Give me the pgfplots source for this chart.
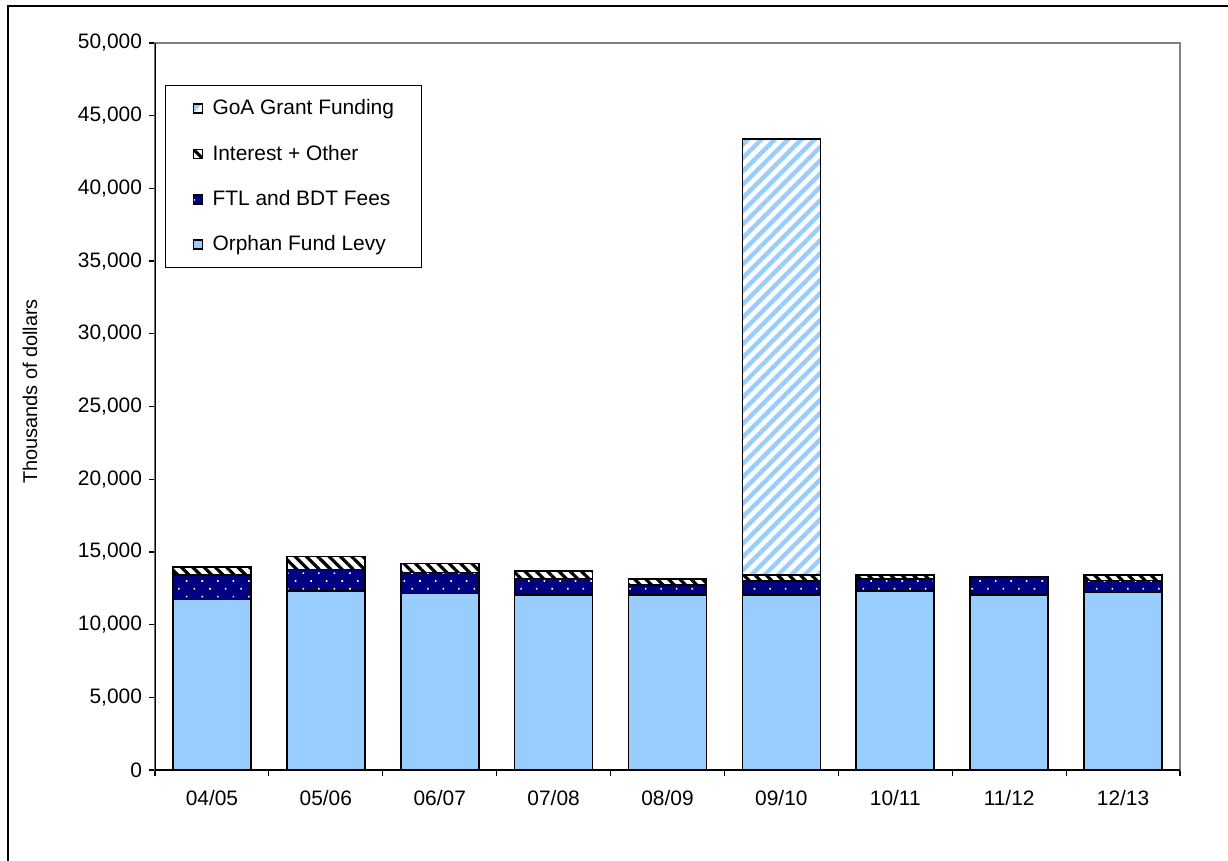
\documentclass[border=0pt]{standalone}
\usepackage{pgfplots}
\pgfplotsset{compat=1.18}
\usepackage{fontspec}
\setmainfont{Liberation Sans}
\usetikzlibrary{patterns.meta}

\definecolor{levyblue}{HTML}{99CCFF}
\definecolor{feenavy}{HTML}{000080}
\definecolor{framegray}{HTML}{808080}

% Funding sources by fiscal year, thousands of dollars
\pgfplotstableread{
x  levy   fees  other  grant
0  11740  1670  570    0
1  12310  1490  870    0
2  12150  1420  640    0
3  12040  1140  510    0
4  12040  680   420    0
5  12040  960   410    30000
6  12310  830   290    0
7  12040  1210  60     0
8  12220  800   410    0
}\funding

\begin{document}
\begin{tikzpicture}
\path[use as bounding box] (-77.5bp,-45.5bp) rectangle (536.5bp,385bp);
\draw[line width=0.8bp] (-73.5bp,-60bp) -- (-73.5bp,382bp) -- (560bp,382bp);
\begin{axis}[
  scale only axis,
  width=512.5bp, height=363.5bp,
  ybar stacked, bar width=0.685,
  xmin=-0.5, xmax=8.5, ymin=0, ymax=50000,
  xtick={0,...,8},
  xticklabels={04/05,05/06,06/07,07/08,08/09,09/10,10/11,11/12,12/13},
  minor xtick={-0.5,0.5,...,8.5},
  ytick={0,5000,...,50000},
  xtick pos=bottom, ytick pos=left,
  tick align=outside,
  major tick length=3bp, minor tick length=3bp,
  major x tick style={draw=none},
  minor x tick style={black, line width=0.6bp},
  y tick style={black, line width=0.6bp},
  axis line style={framegray, line width=0.6bp},
  scaled y ticks=false,
  /pgf/number format/assume math mode=true,
  /pgf/number format/1000 sep={,},
  tick label style={font=\fontsize{10.5}{12}\selectfont},
  xticklabel style={yshift=-3.5bp},
  ylabel={Thousands of dollars},
  ylabel style={font=\fontsize{10}{12}\selectfont},
  every axis y label/.style={at={([xshift=-62.5bp, yshift=7.5bp]axis description cs:0,0.5)}, rotate=90, anchor=center},
  legend style={at={(0.0098,0.942)}, anchor=north west, draw=black, line width=0.5bp,
    font=\fontsize{10.5}{12}\selectfont, cells={anchor=west},
    row sep=9.6bp, inner xsep=12bp, inner ysep=5bp},
  reverse legend,
  % small square swatch, with room reserved to its right
  legend image code/.code={\draw[#1] (2bp,-2.25bp) rectangle (6.5bp,2.25bp);
    \pgfpathmoveto{\pgfqpoint{0bp}{0bp}}\pgfpathlineto{\pgfqpoint{9.5bp}{0bp}}\pgfusepath{discard}},
]
\addplot[fill=levyblue, draw=black, line width=0.8bp] table[x=x, y=levy] {\funding};
\addlegendentry{Orphan Fund Levy}
\addplot[fill=feenavy, draw=black, line width=0.8bp,
  postaction={pattern={Dots[angle=45, distance=5.5bp, radius=0.55bp]}, pattern color=white}]
  table[x=x, y=fees] {\funding};
\addlegendentry{FTL and BDT Fees}
\addplot[fill=white, draw=black, line width=0.8bp,
  postaction={pattern={Lines[angle=-45, distance=4bp, line width=1.6bp]}, pattern color=black}]
  table[x=x, y=other] {\funding};
\addlegendentry{Interest + Other}
\addplot[fill=white, draw=black, line width=0.8bp,
  postaction={pattern={Lines[angle=45, distance=4.7bp, line width=2.2bp]}, pattern color=levyblue}]
  table[x=x, y=grant] {\funding};
\addlegendentry{GoA Grant Funding}
\draw[black, line width=0.6bp] (rel axis cs:0,1) -- (rel axis cs:0,0) -- (rel axis cs:1,0);
\end{axis}
\end{tikzpicture}
\end{document}
